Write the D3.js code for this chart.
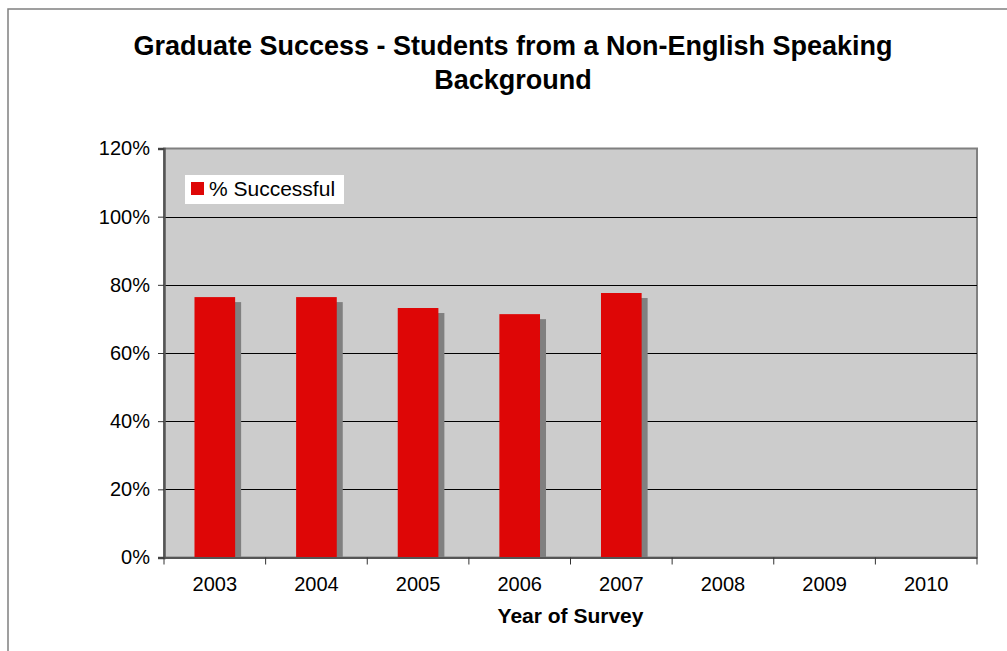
<!DOCTYPE html>
<html><head><meta charset="utf-8">
<script src="https://cdn.jsdelivr.net/npm/d3@7"></script>
<style>body{margin:0;background:#fff}svg{display:block}text{font-family:Arial,"Liberation Sans",sans-serif}</style>
</head><body>
<svg id="c" width="1007" height="651"></svg>
<script>
const categories = ["2003","2004","2005","2006","2007","2008","2009","2010"];
const successValues = [0.764, 0.764, 0.732, 0.714, 0.776, null, null, null];
const yTicks = [0, 0.2, 0.4, 0.6, 0.8, 1.0, 1.2];
const titleLines = ["Graduate Success - Students from a Non-English Speaking", "Background"];
const xTitle = "Year of Survey";
const seriesName = "% Successful";

const svg = d3.select("#c");
const L = 164, R = 977, T = 148.5, B = 557.5;

// outer chart border
svg.append("rect").attr("x", 8).attr("y", 9).attr("width", 1020).attr("height", 700)
  .attr("fill", "#fff").attr("stroke", "#808080").attr("stroke-width", 1.5);

const x = d3.scaleBand().domain(categories).range([L, R]).paddingInner(0.6).paddingOuter(0.3);
const xb = d3.scaleBand().domain(categories).range([L, R]).padding(0);
const y = d3.scaleLinear().domain([0, 1.2]).range([B, T]);

// plot area
svg.append("rect").attr("x", L).attr("y", T).attr("width", R - L).attr("height", B - T)
  .attr("fill", "#cccccc").attr("stroke", "#808080").attr("stroke-width", 2);

// gridlines
svg.append("g").selectAll("line").data(yTicks.filter(v => v > 0 && v < 1.2)).join("line")
  .attr("x1", L).attr("x2", R).attr("y1", d => Math.round(y(d)) + 0.5).attr("y2", d => Math.round(y(d)) + 0.5)
  .attr("stroke", "#000").attr("stroke-width", 1);

// bars with shadow
const data = categories.map((c, i) => ({c, v: successValues[i]})).filter(d => d.v != null);
svg.append("g").selectAll("rect").data(data).join("rect")
  .attr("x", d => x(d.c) + 6).attr("y", d => y(d.v) + 5)
  .attr("width", x.bandwidth()).attr("height", d => B - y(d.v) - 5)
  .attr("fill", "#808080");
svg.append("g").selectAll("rect").data(data).join("rect")
  .attr("x", d => x(d.c)).attr("y", d => y(d.v))
  .attr("width", x.bandwidth()).attr("height", d => B - y(d.v))
  .attr("fill", "#de0606");

// y axis
const yAxis = d3.axisLeft(y).tickValues(yTicks).tickFormat(d3.format(".0%")).tickSize(6).tickPadding(8);
const gy = svg.append("g").attr("transform", `translate(${L},0)`).call(yAxis);
gy.select(".domain").attr("stroke", "#555").attr("stroke-width", 2.5);
gy.selectAll(".tick line").attr("stroke", "#333");
gy.selectAll("text").attr("font-size", 20).attr("fill", "#000").attr("font-family", "Arial, 'Liberation Sans', sans-serif");

// x axis
const gx = svg.append("g").attr("transform", `translate(0,${B})`);
gx.append("line").attr("x1", L).attr("x2", R).attr("y1", 0.5).attr("y2", 0.5).attr("stroke", "#555").attr("stroke-width", 2);
gx.selectAll(".xt").data(categories.concat(["end"])).join("line")
  .attr("x1", (d, i) => L + i * xb.step()).attr("x2", (d, i) => L + i * xb.step())
  .attr("y1", 0).attr("y2", 7).attr("stroke", "#333");
gx.selectAll(".xl").data(categories).join("text")
  .attr("x", d => xb(d) + xb.bandwidth() / 2).attr("y", 33)
  .attr("text-anchor", "middle").attr("font-size", 20).text(d => d);

// axis title
svg.append("text").attr("x", (L + R) / 2).attr("y", 623).attr("text-anchor", "middle")
  .attr("font-size", 21).attr("font-weight", "bold").text(xTitle);

// title
svg.append("g").selectAll("text").data(titleLines).join("text")
  .attr("x", 513).attr("y", (d, i) => 55 + i * 34).attr("text-anchor", "middle")
  .attr("font-size", 27).attr("font-weight", "bold").text(d => d);

// legend
const lg = svg.append("g");
lg.append("rect").attr("x", 185).attr("y", 175).attr("width", 159).attr("height", 29).attr("fill", "#fff");
lg.append("rect").attr("x", 191).attr("y", 182).attr("width", 13).attr("height", 13).attr("fill", "#de0606");
lg.append("text").attr("x", 209).attr("y", 196).attr("font-size", 21).text(seriesName);
</script>
</body></html>
